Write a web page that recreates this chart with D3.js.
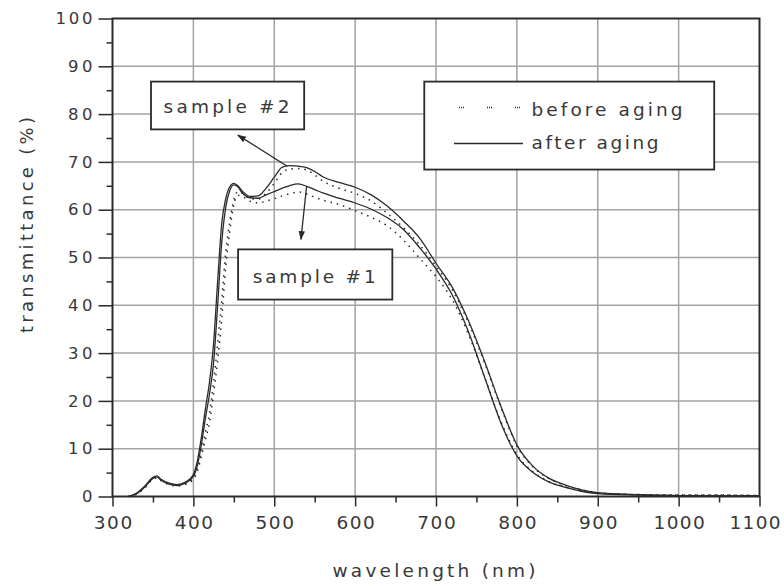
<!DOCTYPE html>
<html>
<head>
<meta charset="utf-8">
<script src="https://cdn.jsdelivr.net/npm/d3@7"></script>
<style>
  html, body { margin: 0; padding: 0; background: #fff; }
  svg { display: block; font-family: "DejaVu Sans", "Liberation Sans", Arial, sans-serif; }
</style>
</head>
<body>
<svg id="chart" width="784" height="586"></svg>
<script>
// ---------------- data ----------------
const wavelengths = [320,330,340,350,355,360,370,380,390,400,405,410,415,420,425,430,435,440,445,450,455,460,470,480,490,500,510,520,530,540,550,560,580,600,620,640,660,680,700,720,740,760,780,800,820,840,860,880,900,950,1000,1050,1100];

const sample1After  = [0,0.6,2.0,3.8,4.1,3.4,2.6,2.3,2.8,4.2,6.5,11,16.5,21.5,28,40,53,60.5,64,65.2,64.8,63.6,62.5,62.4,63.1,63.8,64.5,65.1,65.4,64.9,64.2,63.5,62.4,61.4,60.1,58.3,55.8,52,47.6,42.2,34.5,25,15.5,8.5,5,3,1.9,1.1,0.6,0.3,0.2,0.1,0.1];
const sample2After  = [0,0.7,2.2,4.0,4.3,3.6,2.8,2.5,3.0,4.6,7.5,12.5,18.5,24,32,45,57,62.3,64.8,65.5,65,64,62.8,62.9,64.5,66.8,68.9,69.2,69.1,68.8,68,66.9,65.7,64.7,63.1,60.7,57.6,54,48.8,43.8,36.8,28.3,19,10.8,6.3,3.8,2.4,1.4,0.8,0.4,0.2,0.1,0.1];
const sample1Before = [0,0.5,1.8,3.6,3.9,3.3,2.5,2.2,2.5,3.6,5.2,8.5,12,15.5,21.5,28.5,37,48,55.5,61,63,62.8,61.8,61.4,61.8,62.3,62.9,63.4,63.7,63.3,62.6,62,61.1,59.8,58.4,56.6,53.6,49.8,46,41.2,34,25,15.8,8.8,5.2,3.1,2,1.2,0.7,0.4,0.3,0.3,0.2];
const sample2Before = [0,0.6,2.0,3.8,4.1,3.5,2.7,2.4,2.7,4,6,9.5,13.5,17.5,24,32,41,51,57.5,62,63.8,63.5,62.3,62.2,63.5,65.5,67.8,68.5,68.6,68.3,67.3,66,64.5,63.4,61.8,59.2,56.2,52.6,48.2,43.3,36.4,28,18.8,10.6,6.2,3.7,2.3,1.4,0.8,0.4,0.3,0.3,0.2];

const xTicks = [300,400,500,600,700,800,900,1000,1100];
const xMinorTicks = [350,450,550,650,750,850,950,1050];
const yTicks = [0,10,20,30,40,50,60,70,80,90,100];
const yMinorTicks = [5,15,25,35,45,55,65,75,85,95];

const legendLabels = ["before aging", "after aging"];
const sampleLabels = ["sample #2", "sample #1"];
const xTitle = "wavelength (nm)";
const yTitle = "transmittance (%)";

// ---------------- layout ----------------
const svg = d3.select("#chart");
const pLeft = 112.5, pRight = 759.5, pTop = 18.5, pBottom = 496.5;
const x = d3.scaleLinear().domain([300, 1100]).range([pLeft, pRight]);
const y = d3.scaleLinear().domain([0, 100]).range([pBottom, pTop]);

const ink = "#2a2a2a";
const textInk = "#383838";
const gridColor = "#a3a3a3";
const font = "'DejaVu Sans', 'Liberation Sans', Arial, sans-serif";

// grid
const g = svg.append("g");
g.selectAll("line.vg").data(xTicks.slice(1, -1)).join("line")
  .attr("class", "vg")
  .attr("x1", d => x(d)).attr("x2", d => x(d))
  .attr("y1", pTop).attr("y2", pBottom)
  .attr("stroke", gridColor).attr("stroke-width", 1.5);
g.selectAll("line.hg").data(yTicks.slice(1, -1)).join("line")
  .attr("class", "hg")
  .attr("x1", pLeft).attr("x2", pRight)
  .attr("y1", d => y(d)).attr("y2", d => y(d))
  .attr("stroke", gridColor).attr("stroke-width", 1.5);

// curves
function series(vals) { return wavelengths.map((w, i) => [w, vals[i]]); }
const line = d3.line().x(d => x(d[0])).y(d => y(d[1])).curve(d3.curveMonotoneX);
const curveDash = "1.5,5";
const curves = [
  { vals: sample1Before, dash: curveDash },
  { vals: sample2Before, dash: curveDash },
  { vals: sample1After, dash: null },
  { vals: sample2After, dash: null }
];
svg.append("g").selectAll("path").data(curves).join("path")
  .attr("d", d => line(series(d.vals)))
  .attr("fill", "none")
  .attr("stroke", ink)
  .attr("stroke-width", d => d.dash ? 1.5 : 1.3)
  .attr("stroke-dasharray", d => d.dash);

// axes
const yAxis = svg.append("g").attr("transform", `translate(${pLeft},0)`)
  .call(d3.axisLeft(y).tickValues(yTicks).tickSize(14).tickPadding(6).tickFormat(d3.format("d")));
const yAxisMinor = svg.append("g").attr("transform", `translate(${pLeft},0)`)
  .call(d3.axisLeft(y).tickValues(yMinorTicks).tickSize(6).tickFormat(""));
const xAxis = svg.append("g").attr("transform", `translate(0,${pBottom})`)
  .call(d3.axisBottom(x).tickValues(xTicks).tickSize(10).tickPadding(9).tickFormat(d3.format("d")));
const xAxisMinor = svg.append("g").attr("transform", `translate(0,${pBottom})`)
  .call(d3.axisBottom(x).tickValues(xMinorTicks).tickSize(6).tickFormat(""));

[yAxis, yAxisMinor, xAxis, xAxisMinor].forEach(a => {
  a.select(".domain").remove();
  a.selectAll(".tick line").attr("stroke", ink).attr("stroke-width", 1.5);
});
yAxis.selectAll(".tick text")
  .attr("font-size", 16.5).attr("fill", textInk)
  .attr("font-family", font)
  .attr("textLength", d => String(d).length * 12.3)
  .attr("lengthAdjust", "spacing");
xAxis.selectAll(".tick text")
  .attr("font-size", 18.5).attr("fill", textInk)
  .attr("font-family", font)
  .attr("textLength", d => String(d).length * 12.8)
  .attr("lengthAdjust", "spacing")
  .attr("dx", d => d === 1100 ? -5 : 0);

// frame
svg.append("rect")
  .attr("x", pLeft).attr("y", pTop)
  .attr("width", pRight - pLeft).attr("height", pBottom - pTop)
  .attr("fill", "none").attr("stroke", ink).attr("stroke-width", 2);

// axis titles
svg.append("text")
  .attr("x", (pLeft + pRight) / 2 - 2).attr("y", 577)
  .attr("text-anchor", "middle").attr("font-size", 18.5).attr("fill", textInk)
  .attr("textLength", 203).attr("lengthAdjust", "spacing")
  .text(xTitle);
svg.append("text")
  .attr("transform", `translate(33,225) rotate(-90)`)
  .attr("text-anchor", "middle").attr("font-size", 18).attr("fill", textInk)
  .attr("textLength", 216).attr("lengthAdjust", "spacing")
  .text(yTitle);

// arrows (data coordinates)
const defs = svg.append("defs");
defs.append("marker").attr("id", "ah")
  .attr("viewBox", "0 0 10 10").attr("refX", 9).attr("refY", 5)
  .attr("markerWidth", 7).attr("markerHeight", 7).attr("orient", "auto-start-reverse")
  .append("path").attr("d", "M0,1.5 L10,5 L0,8.5 Z").attr("fill", ink);

const arrows = [
  { from: [516, 69.1], to: [455, 75.6] },
  { from: [540, 64.9], to: [533, 53.8] }
];
svg.append("g").selectAll("line").data(arrows).join("line")
  .attr("x1", d => x(d.from[0])).attr("y1", d => y(d.from[1]))
  .attr("x2", d => x(d.to[0])).attr("y2", d => y(d.to[1]))
  .attr("stroke", ink).attr("stroke-width", 1.3)
  .attr("marker-end", "url(#ah)");

// annotation boxes
const boxes = [
  { label: sampleLabels[0], x0: 347.6, x1: 537, y0: 86.8, y1: 76.8, base: 113, len: 126 },
  { label: sampleLabels[1], x0: 455.3, x1: 646, y0: 51.7, y1: 41.2, base: 283, len: 123 }
];
const bg = svg.append("g");
boxes.forEach(b => {
  bg.append("rect")
    .attr("x", x(b.x0)).attr("y", y(b.y0))
    .attr("width", x(b.x1) - x(b.x0)).attr("height", y(b.y1) - y(b.y0))
    .attr("fill", "#fff").attr("stroke", ink).attr("stroke-width", 1.8);
  bg.append("text")
    .attr("x", (x(b.x0) + x(b.x1)) / 2 - 1).attr("y", b.base)
    .attr("text-anchor", "middle").attr("font-size", 18.5).attr("fill", textInk)
    .attr("textLength", b.len).attr("lengthAdjust", "spacing")
    .text(b.label);
});

// legend
const lg = svg.append("g");
lg.append("rect")
  .attr("x", x(685.5)).attr("y", y(86.8))
  .attr("width", x(1044) - x(685.5)).attr("height", y(68.4) - y(86.8))
  .attr("fill", "#fff").attr("stroke", ink).attr("stroke-width", 1.8);
const legendItems = [
  { label: legendLabels[0], dash: "1,1,1,1,1,23", ly: 107.5, x1: 459, x2: 523, base: 115.5, len: 151 },
  { label: legendLabels[1], dash: null, ly: 143.5, x1: 454, x2: 523, base: 148.5, len: 127 }
];
legendItems.forEach(it => {
  lg.append("line")
    .attr("x1", it.x1).attr("x2", it.x2).attr("y1", it.ly).attr("y2", it.ly)
    .attr("stroke", ink).attr("stroke-width", 1.5)
    .attr("stroke-dasharray", it.dash);
  lg.append("text")
    .attr("x", 531.5).attr("y", it.base)
    .attr("font-size", 18.5).attr("fill", textInk)
    .attr("textLength", it.len).attr("lengthAdjust", "spacing")
    .text(it.label);
});
</script>
</body>
</html>
